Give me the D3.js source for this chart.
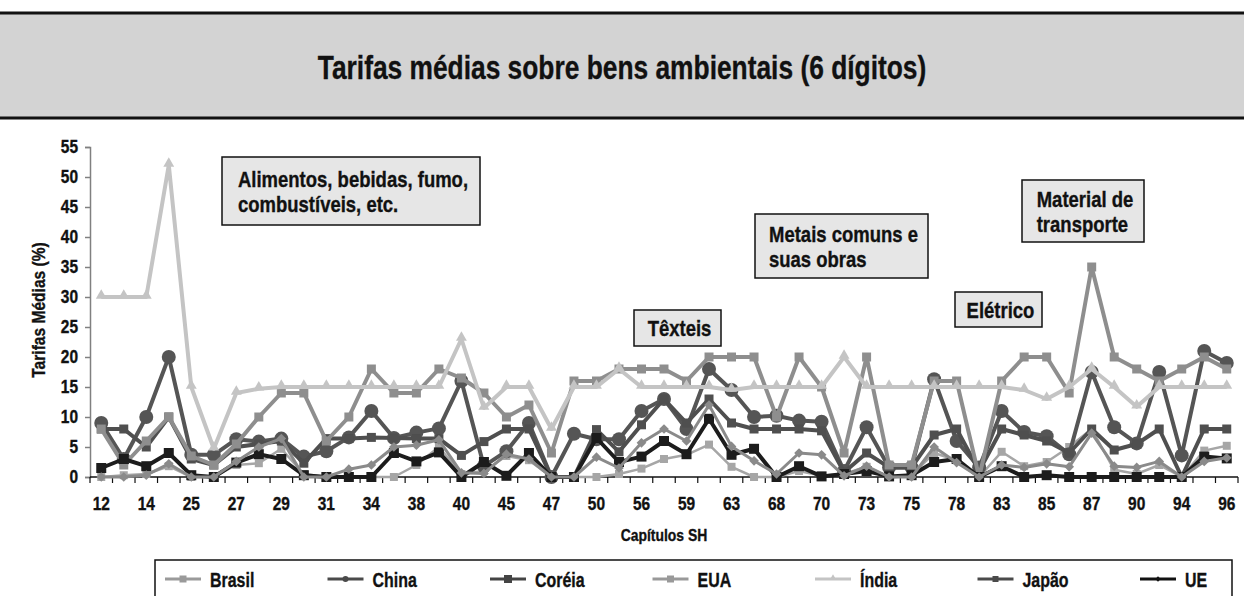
<!DOCTYPE html>
<html>
<head>
<meta charset="utf-8">
<script src="https://cdn.jsdelivr.net/npm/d3@7"></script>
<style>
  body { margin: 0; background: #fff; }
  svg text {
    font-family: "Liberation Sans", Arial, sans-serif;
    font-weight: bold;
    fill: #111;
    stroke: #111;
    stroke-width: 0.35px;
  }
</style>
</head>
<body>
<div id="chart"></div>
<script>
// Capítulos SH (only every other one gets a label on the axis)
const chapters = ['12','13','14','15','25','26','27','28','29','30','31','32','34','35','38','39','40','44','45','46',
                  '47','48','50','53','56','57','59','61','63','64','68','69','70','72','73','74','75','76','78','82',
                  '83','84','85','86','87','89','90','91','94','95','96'];

// average tariffs (%)
const brasil = [0, 0.3, 0.5, 1.8, 0, 0, 2, 2.3, 4.7, 0.5, 0, 0, 0, 0, 2, 5, 0.5, 1, 3.5, 2.8,
                0, 0, 0, 0.5, 1.4, 3, 3.7, 5.4, 1.7, 0, 0, 1, 0.2, 0.5, 1.7, 0, 0.3, 4, 2.8, 0,
                4.2, 1.8, 2.5, 5, 8, 1.2, 0.5, 2, 0, 4.4, 5.2];
const china = [9, 3, 10, 20, 3.7, 3.7, 6.3, 5.9, 6.4, 3.4, 4.3, 6.6, 11, 6.5, 7.4, 8.1, 16, 1.8, 4.3, 9,
               0, 7.2, 6.3, 6.3, 11, 13, 8, 18, 14.5, 10, 10.2, 9.4, 9.2, 1, 8.3, 1.6, 1.6, 16.3, 6, 1.6,
               11, 7.5, 6.8, 3.8, 17.5, 8.3, 5.6, 17.5, 3.6, 21, 19];
const coreia = [8, 8, 5, 10, 3, 2, 5, 5.5, 6, 2.3, 6.4, 6.4, 6.6, 6.5, 6.4, 6.4, 3.6, 5.9, 8, 8,
                0, 0, 7.9, 4.2, 8.7, 13, 9, 13, 9, 8, 8, 8, 7.7, 0.8, 4, 1.6, 1.6, 7, 8, 1,
                8, 7, 6, 4, 8, 4.5, 5.5, 8, 0, 8, 8];
const eua = [8, 2, 6, 10, 3.5, 2, 5.5, 10, 14, 14, 6, 10, 18, 14, 14, 18, 16.5, 14, 10, 12,
             4, 16, 16, 18, 18, 18, 16, 20, 20, 20, 10, 20, 15, 4, 20, 2, 2, 16, 16, 0,
             16, 20, 20, 14, 35, 20, 18, 16, 18, 20, 18];
const india = [30, 30, 30, 52, 15, 4.7, 14, 14.7, 15, 15, 15, 15, 15, 15, 15, 15, 23, 11.5, 15, 15,
               8, 15, 15, 18, 15, 15, 15, 15, 14.5, 15, 15, 15, 15, 20, 15, 15, 15, 15, 15, 15,
               15, 14.5, 13, 15, 18, 15, 11.7, 15, 15, 15, 15];
const japao = [1.5, 3, 1.8, 4, 0.3, 0, 2.4, 3.8, 3, 0.3, 0, 0, 0, 4, 2.6, 4.1, 0, 2.5, 0.2, 4,
               0, 0, 6.5, 2.5, 3.4, 6, 3.8, 9.7, 3.7, 4.7, 0, 1.8, 0.1, 0.5, 1, 0.1, 0.3, 2.5, 3, 0,
               1.8, 0, 0.3, 0, 0, 0, 0, 0, 0, 3.4, 3.1];
const ue = [0, 0, 0.3, 2.2, 0, 0, 2.6, 5, 6.4, 0, 0, 1.3, 2, 5, 5.3, 6.2, 0.7, 0.6, 3.8, 3,
            0, 0, 3.3, 1.5, 5.7, 8, 6, 12, 5.1, 2.7, 0.5, 4, 3.7, 0.2, 1.8, 0, 0, 5, 2.4, 0,
            2, 1.6, 2.2, 1.7, 7.3, 1.8, 1.6, 2.6, 0, 2.6, 3.2];

const seriesNames = ['Brasil', 'China', 'Coréia', 'EUA', 'Índia', 'Japão', 'UE'];
const seriesValues = [brasil, china, coreia, eua, india, japao, ue];
const yTicks = [0, 5, 10, 15, 20, 25, 30, 35, 40, 45, 50, 55];

const title = 'Tarifas médias sobre bens ambientais (6 dígitos)';
const yTitle = 'Tarifas Médias (%)';
const xTitle = 'Capítulos SH';
const noteTexts = [
    ['Alimentos, bebidas, fumo,', 'combustíveis, etc.'],
    ['Metais comuns e', 'suas obras'],
    ['Têxteis'],
    ['Elétrico'],
    ['Material de', 'transporte']
];

// styles (kept apart from the data)
const styles = {
    'Brasil': { color: '#a6a6a6', width: 2.5, marker: 'square', size: 8 },
    'China':  { color: '#555555', width: 4,   marker: 'circle', size: 7 },
    'Coréia': { color: '#4f4f4f', width: 4,   marker: 'square', size: 9 },
    'EUA':    { color: '#8e8e8e', width: 4,   marker: 'square', size: 9 },
    'Índia':  { color: '#c4c4c4', width: 4,   marker: 'triangle', size: 14 },
    'Japão':  { color: '#1c1c1c', width: 4,   marker: 'square', size: 10 },
    'UE':     { color: '#8a8a8a', width: 3,   marker: 'diamond', size: 11 }
};
// legend symbols as drawn in the original legend
const legendStyles = {
    'Brasil': { color: '#9a9a9a', marker: 'square', size: 7 },
    'China':  { color: '#4a4a4a', marker: 'circle', size: 3 },
    'Coréia': { color: '#444444', marker: 'square', size: 8 },
    'EUA':    { color: '#999999', marker: 'square', size: 7 },
    'Índia':  { color: '#c4c4c4', marker: 'triangle', size: 7 },
    'Japão':  { color: '#4a4a4a', marker: 'square', size: 6 },
    'UE':     { color: '#111111', marker: 'diamond', size: 6 }
};
// box frames; the first one is sized from its text
const noteBoxes = [
    { x: 222, y: 157, w: null, h: 68 },
    { x: 755, y: 214, w: 173, h: 64 },
    { x: 634, y: 310, w: 87,  h: 36 },
    { x: 955, y: 292, w: 87,  h: 35 },
    { x: 1022, y: 180, w: 122, h: 62 }
];
const NOTE_K = 0.86, NOTE_SIZE = 21.5;

const width = 1244, height = 596;
const margin = { top: 147, right: 6, bottom: 119, left: 90 };
const innerW = width - margin.left - margin.right;
const innerH = height - margin.top - margin.bottom;

const svg = d3.select('#chart')
    .append('svg')
    .attr('width', width)
    .attr('height', height);

// condensed text helper: the original uses a condensed face, so squeeze horizontally
function ctext(parent, x, y, str, size, k, anchor, rot) {
    return parent.append('text')
        .attr('transform', `translate(${x},${y})${rot ? ` rotate(${rot})` : ''} scale(${k},1)`)
        .attr('text-anchor', anchor || 'start')
        .attr('font-size', size + 'px')
        .text(str);
}

// title band
svg.append('rect')
    .attr('x', 0).attr('y', 13)
    .attr('width', width).attr('height', 105)
    .attr('fill', '#d3d3d3');
svg.append('line').attr('x1', 0).attr('x2', width).attr('y1', 13).attr('y2', 13)
    .attr('stroke', '#111').attr('stroke-width', 3);
svg.append('line').attr('x1', 0).attr('x2', width).attr('y1', 118).attr('y2', 118)
    .attr('stroke', '#111').attr('stroke-width', 3);
ctext(svg, width / 2, 79, title, 34, 0.775, 'middle');

const g = svg.append('g')
    .attr('transform', `translate(${margin.left},${margin.top})`);

// scales
const xScale = d3.scaleBand()
    .domain(chapters)
    .range([0, innerW]);
const yScale = d3.scaleLinear()
    .domain([0, 55])
    .range([innerH, 0]);

// y axis
const yAxis = d3.axisLeft(yScale)
    .tickValues(yTicks)
    .tickSize(5)
    .tickPadding(6);
const yAxisG = g.append('g').attr('class', 'y-axis').call(yAxis);
yAxisG.select('.domain').attr('stroke', '#808080').attr('stroke-width', 1.5);
yAxisG.selectAll('.tick line').attr('stroke', '#808080').attr('stroke-width', 1.5);
yAxisG.selectAll('.tick text')
    .attr('font-size', '18px')
    .attr('fill', '#111')
    .attr('transform', 'scale(0.86,1)')
    .attr('x', -12 / 0.86);

// x axis: ticks on category boundaries, label every other category
const xAxisG = g.append('g')
    .attr('class', 'x-axis')
    .attr('transform', `translate(0,${innerH})`);
xAxisG.append('line')
    .attr('x1', 0).attr('x2', innerW)
    .attr('stroke', '#111').attr('stroke-width', 1.5);
xAxisG.selectAll('.bound')
    .data(chapters.concat(['end']))
    .enter().append('line')
    .attr('class', 'bound')
    .attr('x1', (d, i) => i * xScale.step())
    .attr('x2', (d, i) => i * xScale.step())
    .attr('y1', 0).attr('y2', 6)
    .attr('stroke', '#111').attr('stroke-width', 1.2);
chapters.filter((d, i) => i % 2 === 0).forEach(d => {
    ctext(xAxisG, xScale(d) + xScale.bandwidth() / 2, 33, d, 18, 0.86, 'middle');
});

// axis titles
ctext(svg, 45, margin.top + innerH / 2 - 2, yTitle, 19, 0.82, 'middle', -90);
ctext(svg, 664, 541, xTitle, 17, 0.82, 'middle');

// marker shapes
function drawMarker(sel, type, size, color) {
    if (type === 'circle') {
        sel.append('circle').attr('r', size).attr('fill', color);
    } else {
        const shape = { square: d3.symbolSquare, diamond: d3.symbolDiamond2, triangle: d3.symbolTriangle2 }[type];
        const area = type === 'square' ? size * size : type === 'diamond' ? size * size / 2 : size * size * 0.433;
        sel.append('path')
            .attr('d', d3.symbol().type(shape).size(area)())
            .attr('transform', type === 'triangle' ? 'translate(0,-1.5)' : null)
            .attr('fill', color);
    }
}

const line = d3.line()
    .x((d, i) => xScale(chapters[i]) + xScale.bandwidth() / 2)
    .y(d => yScale(d));

// lines + markers, in legend order
seriesNames.forEach((name, k) => {
    const st = styles[name];
    const values = seriesValues[k];
    const sg = g.append('g').attr('class', 'series');
    sg.append('path')
        .datum(values)
        .attr('fill', 'none')
        .attr('stroke', st.color)
        .attr('stroke-width', st.width)
        .attr('stroke-linejoin', 'round')
        .attr('d', line);
    sg.selectAll('.pt')
        .data(values)
        .enter().append('g')
        .attr('class', 'pt')
        .attr('transform', (d, i) => `translate(${xScale(chapters[i]) + xScale.bandwidth() / 2},${yScale(d)})`)
        .each(function() { drawMarker(d3.select(this), st.marker, st.size, st.color); });
});

// annotation boxes: lines left aligned, block centred in the box
noteTexts.forEach((lines, k) => {
    const b = noteBoxes[k];
    const ng = svg.append('g').attr('transform', `translate(${b.x},${b.y})`);
    const rect = ng.append('rect')
        .attr('height', b.h)
        .attr('fill', '#e6e6e6')
        .attr('stroke', '#111').attr('stroke-width', 1.5);
    const texts = lines.map((t, j) =>
        ctext(ng, 0, b.h / 2 + (j - (lines.length - 1) / 2) * 25 + 8, t, NOTE_SIZE, NOTE_K));
    const maxW = d3.max(texts, t => t.node().getComputedTextLength() * NOTE_K);
    const w = b.w || Math.round(maxW + 28);
    rect.attr('width', w);
    const left = (w - maxW) / 2 + 2;
    texts.forEach((t, j) => {
        t.attr('transform', `translate(${left},${b.h / 2 + (j - (lines.length - 1) / 2) * 25 + 8}) scale(${NOTE_K},1)`);
    });
});

// legend
const legend = svg.append('g').attr('class', 'legend');
legend.append('rect')
    .attr('x', 155).attr('y', 560)
    .attr('width', 1077).attr('height', 60)
    .attr('fill', '#fff')
    .attr('stroke', '#111').attr('stroke-width', 1.5);
const legendX = d3.scalePoint()
    .domain(seriesNames)
    .range([165, 1140]);
seriesNames.forEach(name => {
    const ls = legendStyles[name];
    const item = legend.append('g').attr('transform', `translate(${legendX(name)},579)`);
    item.append('line')
        .attr('x1', 0).attr('x2', 36)
        .attr('stroke', ls.color).attr('stroke-width', 3);
    const m = item.append('g').attr('transform', 'translate(18,0)');
    drawMarker(m, ls.marker, ls.size, ls.color);
    ctext(item, 45, 7.5, name, 21, 0.76);
});
</script>
</body>
</html>
